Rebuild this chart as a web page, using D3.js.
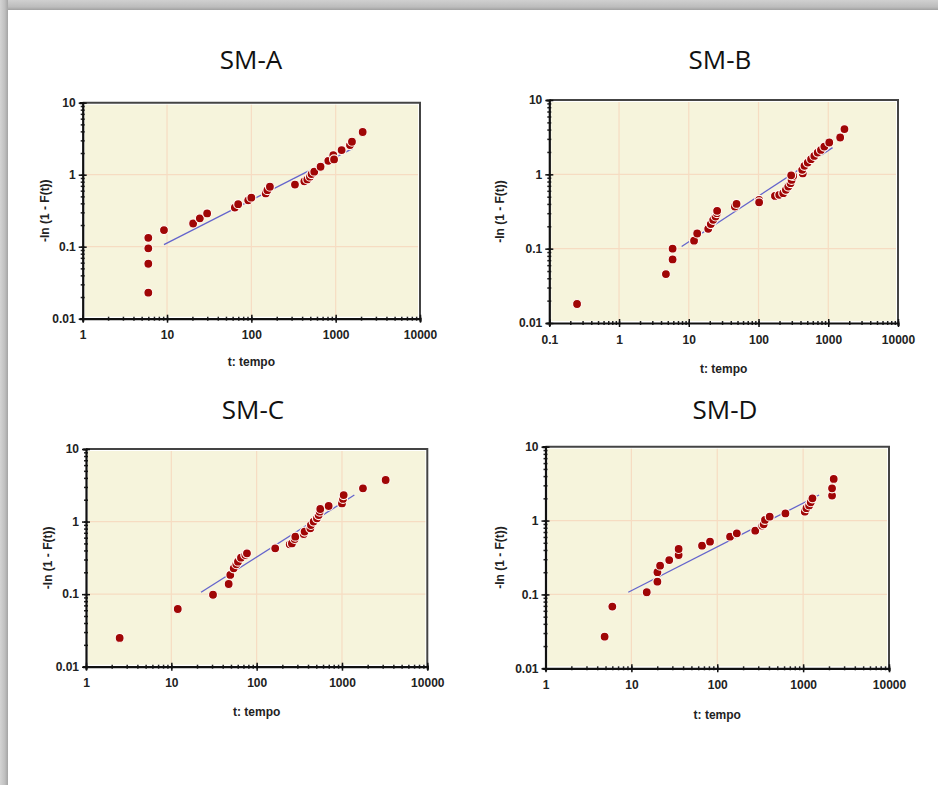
<!DOCTYPE html>
<html>
<head>
<meta charset="utf-8">
<script src="https://cdn.jsdelivr.net/npm/d3@7"></script>
<style>
  html, body { margin: 0; padding: 0; background: #fff; }
  svg { display: block; }
</style>
</head>
<body>
<svg id="chart" width="938" height="785"></svg>
<script>
// ---------------- DATA ----------------
const panelTitles = ["SM-A", "SM-B", "SM-C", "SM-D"];
const xAxisTitle = "t: tempo";
const yAxisTitle = "-ln (1 - F(t))";
const yTickValues = [0.01, 0.1, 1, 10];
const yTickLabels = ["0.01", "0.1", "1", "10"];
const xTickValuesA = [1, 10, 100, 1000, 10000];
const xTickLabelsA = ["1", "10", "100", "1000", "10000"];
const xTickValuesB = [0.1, 1, 10, 100, 1000, 10000];
const xTickLabelsB = ["0.1", "1", "10", "100", "1000", "10000"];

// SM-A
const tA = [6.0, 6.0, 6.0, 6.0, 9.2, 20.4, 24.5, 29.9, 63.7, 69.8, 91.8, 100, 148, 155, 166, 329, 425, 461, 495, 518, 557, 662, 818, 937, 957, 1176, 1478, 1560, 2090];
const fA = [0.133, 0.095, 0.058, 0.023, 0.17, 0.21, 0.248, 0.29, 0.35, 0.39, 0.44, 0.48, 0.55, 0.61, 0.68, 0.73, 0.81, 0.86, 0.94, 1.02, 1.10, 1.29, 1.56, 1.87, 1.63, 2.2, 2.58, 2.87, 3.92];
const fitTA = [9.2, 1600];
const fitFA = [0.107, 2.32];

// SM-B
const tB = [0.25, 4.7, 5.86, 5.86, 11.9, 13.2, 19, 20.7, 22.4, 24.2, 25.3, 25.5, 45.8, 48.4, 102, 102, 172, 198, 226, 247, 267, 288, 298, 314, 294, 431, 423, 456, 508, 567, 631, 705, 786, 878, 1033, 1482, 1707];
const fB = [0.018, 0.0455, 0.0716, 0.10, 0.128, 0.16, 0.185, 0.214, 0.244, 0.271, 0.30, 0.323, 0.369, 0.40, 0.454, 0.42, 0.513, 0.53, 0.557, 0.618, 0.685, 0.76, 0.84, 0.95, 0.97, 1.03, 1.15, 1.30, 1.44, 1.6, 1.77, 1.96, 2.13, 2.36, 2.68, 3.13, 4.06];
const fitTB = [7.9, 1153];
const fitFB = [0.107, 2.29];

// SM-C
const tC = [2.48, 11.9, 30.8, 47, 49.1, 53.8, 57.8, 60.4, 65.5, 73.6, 77, 165, 244, 259, 279, 284, 356, 365, 426, 433, 465, 509, 533, 548, 557, 698, 1000, 1028, 1047, 1762, 3250];
const fC = [0.0249, 0.0624, 0.098, 0.138, 0.184, 0.227, 0.258, 0.28, 0.318, 0.346, 0.365, 0.428, 0.485, 0.50, 0.575, 0.62, 0.674, 0.727, 0.807, 0.897, 1.0, 1.11, 1.23, 1.37, 1.49, 1.64, 1.78, 2.05, 2.32, 2.87, 3.74];
const fitTC = [22.3, 1396];
const fitFC = [0.106, 2.32];

// SM-D
const tD = [4.88, 6.0, 15.1, 20.1, 20.1, 21.6, 27.6, 35.5, 35.5, 66.5, 82.4, 141, 169, 277, 334, 347, 360, 408, 622, 1046, 1093, 1175, 1227, 1284, 2172, 2172, 2270];
const fD = [0.0268, 0.0684, 0.107, 0.149, 0.20, 0.245, 0.292, 0.342, 0.412, 0.457, 0.518, 0.605, 0.671, 0.73, 0.853, 0.889, 1.02, 1.13, 1.25, 1.32, 1.47, 1.6, 1.77, 2.0, 2.18, 2.73, 3.66];
const fitTD = [9.2, 1535];
const fitFD = [0.107, 2.22];

// ---------------- LAYOUT ----------------
const panels = [
  { title: panelTitles[0], t: tA, f: fA, ft: fitTA, ff: fitFA, xv: xTickValuesA, xl: xTickLabelsA,
    px0: 82.7, px1: 420, py0: 102.7, py1: 318.7, tx: 251, ty: 69, ytx: 45, xty: 366 },
  { title: panelTitles[1], t: tB, f: fB, ft: fitTB, ff: fitFB, xv: xTickValuesB, xl: xTickLabelsB,
    px0: 549.3, px1: 898, py0: 100, py1: 323, tx: 720, ty: 69, ytx: 500, xty: 373 },
  { title: panelTitles[2], t: tC, f: fC, ft: fitTC, ff: fitFC, xv: xTickValuesA, xl: xTickLabelsA,
    px0: 86, px1: 427.3, py0: 449, py1: 666.7, tx: 253, ty: 419, ytx: 48, xty: 716 },
  { title: panelTitles[3], t: tD, f: fD, ft: fitTD, ff: fitFD, xv: xTickValuesA, xl: xTickLabelsA,
    px0: 545.5, px1: 889, py0: 446.7, py1: 668.3, tx: 725, ty: 419, ytx: 500, xty: 719 }
];

const svg = d3.select("#chart");

// Background card with shadow on top & left
const defs = svg.append("defs");
const gTop = defs.append("linearGradient").attr("id", "gTop").attr("x1", 0).attr("y1", 0).attr("x2", 0).attr("y2", 1);
gTop.append("stop").attr("offset", "0%").attr("stop-color", "#d0d0d0");
gTop.append("stop").attr("offset", "70%").attr("stop-color", "#bcbcbc");
gTop.append("stop").attr("offset", "100%").attr("stop-color", "#a0a0a0");
const gLeft = defs.append("linearGradient").attr("id", "gLeft").attr("x1", 0).attr("y1", 0).attr("x2", 1).attr("y2", 0);
gLeft.append("stop").attr("offset", "0%").attr("stop-color", "#d4d4d4");
gLeft.append("stop").attr("offset", "60%").attr("stop-color", "#c0c0c0");
gLeft.append("stop").attr("offset", "100%").attr("stop-color", "#a4a4a4");

svg.append("rect").attr("x", 0).attr("y", 0).attr("width", 938).attr("height", 785).attr("fill", "#fff");
svg.append("rect").attr("x", 0).attr("y", 0).attr("width", 938).attr("height", 10).attr("fill", "url(#gTop)");
svg.append("rect").attr("x", 0).attr("y", 0).attr("width", 8).attr("height", 785).attr("fill", "url(#gLeft)");

const minorOf = (lo, hi) => {
  const out = [];
  for (let d = lo; d < hi; d *= 10) for (let k = 1; k <= 9; k++) out.push(+(d * k).toPrecision(6));
  out.push(hi);
  return out;
};

panels.forEach(p => {
  const xDom = [p.xv[0], p.xv[p.xv.length - 1]];
  const x = d3.scaleLog().domain(xDom).range([p.px0, p.px1]);
  const y = d3.scaleLog().domain([yTickValues[0], yTickValues[yTickValues.length - 1]]).range([p.py1, p.py0]);
  const g = svg.append("g");

  // title
  g.append("text").attr("x", p.tx).attr("y", p.ty).attr("text-anchor", "middle")
    .attr("font-family", "'Open Sans', sans-serif").attr("font-size", 26).attr("fill", "#111")
    .text(p.title);

  // plot background
  g.append("rect").attr("x", p.px0 + 2).attr("y", p.py0 + 2)
    .attr("width", p.px1 - p.px0 - 4).attr("height", p.py1 - p.py0 - 4)
    .attr("fill", "#f6f4dc");

  // grid
  g.append("g").selectAll("line").data(p.xv.slice(1, -1)).join("line")
    .attr("x1", d => x(d)).attr("x2", d => x(d)).attr("y1", p.py0 + 2).attr("y2", p.py1 - 2)
    .attr("stroke", "#f6dcc2").attr("stroke-width", 1.2);
  g.append("g").selectAll("line").data(yTickValues.slice(1, -1)).join("line")
    .attr("y1", d => y(d)).attr("y2", d => y(d)).attr("x1", p.px0 + 2).attr("x2", p.px1 - 2)
    .attr("stroke", "#f6dcc2").attr("stroke-width", 1.2);

  // frame top/right
  g.append("path").attr("d", `M${p.px0},${p.py0}H${p.px1}V${p.py1}`)
    .attr("fill", "none").attr("stroke", "#444").attr("stroke-width", 2);

  // x axis minor ticks
  const xMinor = minorOf(xDom[0], xDom[1]);
  const xAxMinor = g.append("g").attr("transform", `translate(0,${p.py1})`)
    .call(d3.axisBottom(x).tickValues(xMinor).tickSize(2).tickFormat(""));
  xAxMinor.select(".domain").remove();
  xAxMinor.selectAll(".tick line").attr("y1", -2).attr("y2", 2).attr("stroke", "#222").attr("stroke-width", 1.5);
  const xAx = g.append("g").attr("transform", `translate(0,${p.py1})`)
    .call(d3.axisBottom(x).tickValues(p.xv).tickSize(3).tickPadding(9).tickFormat((d, i) => p.xl[i]));
  xAx.select(".domain").attr("stroke", "#111").attr("stroke-width", 2.2);
  xAx.selectAll(".tick line").attr("y1", -4).attr("y2", 4).attr("stroke", "#111").attr("stroke-width", 1.5);
  xAx.selectAll(".tick text").attr("font-family", "Arial, 'Liberation Sans', sans-serif").attr("font-size", 12)
    .attr("font-weight", "bold").attr("fill", "#222");

  // y axis
  const yMinor = minorOf(yTickValues[0], yTickValues[yTickValues.length - 1]);
  const yAxMinor = g.append("g").attr("transform", `translate(${p.px0},0)`)
    .call(d3.axisLeft(y).tickValues(yMinor).tickSize(2).tickFormat(""));
  yAxMinor.select(".domain").remove();
  yAxMinor.selectAll(".tick line").attr("x1", -2).attr("x2", 2).attr("stroke", "#222").attr("stroke-width", 1.5);
  const yAx = g.append("g").attr("transform", `translate(${p.px0},0)`)
    .call(d3.axisLeft(y).tickValues(yTickValues).tickSize(3).tickPadding(4).tickFormat((d, i) => yTickLabels[i]));
  yAx.select(".domain").attr("stroke", "#111").attr("stroke-width", 2.2);
  yAx.selectAll(".tick line").attr("x1", -4).attr("x2", 4).attr("stroke", "#111").attr("stroke-width", 1.5);
  yAx.selectAll(".tick text").attr("font-family", "Arial, 'Liberation Sans', sans-serif").attr("font-size", 12)
    .attr("font-weight", "bold").attr("fill", "#222");

  // axis titles
  g.append("text").attr("x", (p.px0 + p.px1) / 2).attr("y", p.xty).attr("text-anchor", "middle")
    .attr("font-family", "Arial, 'Liberation Sans', sans-serif").attr("font-size", 12).attr("font-weight", "bold").attr("fill", "#222")
    .text(xAxisTitle);
  g.append("text").attr("transform", `translate(${p.ytx},${(p.py0 + p.py1) / 2}) rotate(-90)`)
    .attr("text-anchor", "middle").attr("dy", "0.35em")
    .attr("font-family", "Arial, 'Liberation Sans', sans-serif").attr("font-size", 12).attr("font-weight", "bold").attr("fill", "#222")
    .text(yAxisTitle);

  // fit line
  g.append("line").attr("x1", x(p.ft[0])).attr("y1", y(p.ff[0])).attr("x2", x(p.ft[1])).attr("y2", y(p.ff[1]))
    .attr("stroke", "#6464cc").attr("stroke-width", 1.3);

  // points
  g.append("g").selectAll("circle").data(p.t.map((t, i) => [t, p.f[i]])).join("circle")
    .attr("cx", d => x(d[0])).attr("cy", d => y(d[1])).attr("r", 4.5)
    .attr("fill", "#a00606").attr("stroke", "#fff8f0").attr("stroke-width", 1.2);
});
</script>
</body>
</html>
